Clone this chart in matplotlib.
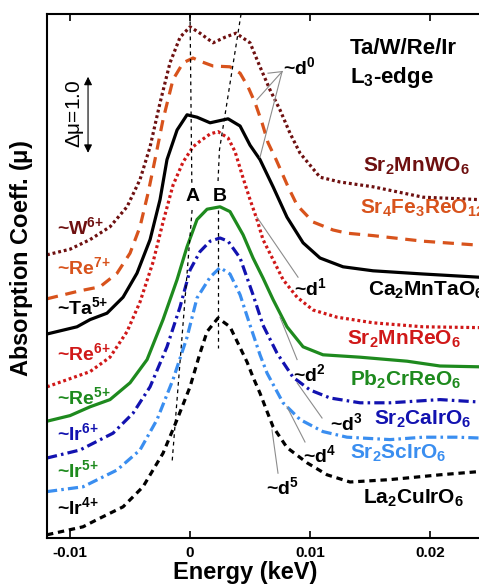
import numpy as np
import matplotlib
matplotlib.use('Agg')
import matplotlib.pyplot as plt

plt.rcParams['font.family'] = ['Liberation Sans', 'DejaVu Sans']
plt.rcParams['mathtext.default'] = 'regular'

# energy offsets in eV (converted to keV when plotted), mu in units of delta-mu
e_wo = [-11.92, -10.0, -8.33, -6.67, -5.25, -4.17, -3.33, -2.5, -1.67, -0.83, 0.0, 0.83, 1.92, 2.92, 3.83,
        5.0, 5.83, 6.67, 7.5, 8.33, 9.17, 10.17, 10.83, 12.5, 15.25, 19.42, 24.08, 25.83]
mu_wo = [3.54, 3.61, 3.73, 3.89, 4.14, 4.48, 4.89, 5.44, 5.94, 6.26, 6.39, 6.31, 6.19, 6.26, 6.31,
         6.19, 5.89, 5.60, 5.35, 5.06, 4.81, 4.63, 4.51, 4.45, 4.39, 4.26, 4.23, 4.21]

e_fe = [-11.92, -10.83, -9.17, -7.5, -6.08, -5.0, -4.17, -3.5, -2.92, -2.25, -1.42, -0.58, 0.25, 0.83,
        1.92, 3.33, 4.17, 4.83, 5.42, 6.0, 6.5, 7.17, 8.17, 8.92, 10.25, 11.92, 13.08, 15.25, 19.42,
        24.08, 25.83]
mu_fe = [2.99, 3.03, 3.09, 3.14, 3.31, 3.56, 3.89, 4.31, 4.73, 5.23, 5.73, 5.94, 6.00, 5.96,
         5.90, 5.89, 5.81, 5.64, 5.44, 5.19, 4.94, 4.73, 4.39, 4.16, 3.95, 3.85, 3.81, 3.78, 3.71,
         3.66, 3.65]

e_ta = [-11.92, -9.42, -8.33, -6.92, -5.58, -4.42, -3.33, -2.5, -1.92, -1.08, -0.25, 0.58, 1.67, 3.17,
        4.17, 5.0, 5.83, 6.92, 8.08, 9.42, 10.83, 12.75, 15.25, 19.42, 24.08, 25.83]
mu_ta = [2.55, 2.64, 2.73, 2.81, 3.01, 3.31, 3.73, 4.23, 4.73, 5.10, 5.29, 5.26, 5.19, 5.24,
         5.15, 4.91, 4.73, 4.39, 4.01, 3.69, 3.50, 3.39, 3.34, 3.30, 3.26, 3.25]

e_mnre = [-11.92, -8.33, -6.67, -5.25, -4.17, -3.08, -2.25, -1.42, -0.58, 0.25, 0.83, 1.67, 2.33, 3.17,
          3.75, 4.42, 5.0, 5.58, 6.08, 6.92, 7.75, 8.92, 10.25, 12.25, 15.25, 19.42, 24.08, 25.83]
mu_mnre = [1.89, 2.08, 2.26, 2.58, 2.95, 3.45, 3.95, 4.41, 4.70, 4.89, 4.96, 5.05, 5.08, 5.00,
           4.83, 4.50, 4.23, 3.98, 3.73, 3.48, 3.23, 3.01, 2.85, 2.76, 2.69, 2.64, 2.63, 2.63]

e_cr = [-11.92, -10.0, -8.33, -6.67, -5.0, -3.58, -2.25, -1.08, -0.25, 0.58, 1.42, 2.5, 3.33, 4.42,
        5.25, 6.08, 6.92, 8.08, 9.42, 11.08, 14.17, 18.08, 20.83, 24.08, 25.83]
mu_cr = [1.46, 1.53, 1.64, 1.73, 1.94, 2.23, 2.73, 3.23, 3.64, 3.98, 4.11, 4.14, 4.08, 3.79,
         3.50, 3.25, 2.98, 2.64, 2.39, 2.29, 2.26, 2.21, 2.15, 2.14, 2.14]

e_ca = [-11.92, -9.17, -6.42, -4.75, -3.33, -1.92, -0.83, 0.0, 0.83, 1.67, 2.5, 3.17, 4.17, 5.25,
        6.08, 7.25, 8.58, 10.0, 11.67, 14.17, 16.67, 20.83, 24.08, 25.83]
mu_ca = [1.00, 1.10, 1.31, 1.56, 1.89, 2.39, 2.89, 3.35, 3.58, 3.71, 3.75, 3.71, 3.50, 3.04,
         2.66, 2.31, 2.01, 1.85, 1.75, 1.69, 1.69, 1.73, 1.70, 1.69]

e_sc = [-11.92, -8.92, -6.08, -4.17, -2.75, -1.42, -0.25, 0.58, 1.67, 2.5, 3.33, 4.17, 5.0,
        5.83, 6.42, 7.75, 9.17, 11.08, 13.08, 16.67, 19.42, 22.25, 24.08, 25.83]
mu_sc = [0.58, 0.64, 0.85, 1.10, 1.48, 1.98, 2.51, 3.00, 3.26, 3.38, 3.30, 3.04, 2.66,
         2.29, 2.06, 1.69, 1.48, 1.33, 1.26, 1.23, 1.26, 1.26, 1.25, 1.25]

e_cu = [-11.92, -8.92, -7.75, -5.58, -3.92, -2.25, -1.08, 0.0, 0.83, 1.42, 2.33, 3.33, 4.17, 4.75,
        5.25, 5.83, 6.42, 6.92, 8.08, 9.75, 11.42, 13.33, 16.67, 20.83, 24.08, 25.83]
mu_cu = [0.04, 0.14, 0.23, 0.39, 0.64, 1.06, 1.48, 1.89, 2.31, 2.58, 2.75, 2.64, 2.38, 2.20,
         2.01, 1.81, 1.58, 1.39, 1.13, 0.94, 0.79, 0.70, 0.73, 0.79, 0.83, 0.84]

compounds = [r'Sr$_2$MnWO$_6$', r'Sr$_4$Fe$_3$ReO$_{12}$', r'Ca$_2$MnTaO$_6$', r'Sr$_2$MnReO$_6$',
             r'Pb$_2$CrReO$_6$', r'Sr$_2$CaIrO$_6$', r'Sr$_2$ScIrO$_6$', r'La$_2$CuIrO$_6$']
valences = [r'~W$^{6{+}}$', r'~Re$^{7{+}}$', r'~Ta$^{5{+}}$', r'~Re$^{6{+}}$',
            r'~Re$^{5{+}}$', r'~Ir$^{6{+}}$', r'~Ir$^{5{+}}$', r'~Ir$^{4{+}}$']
d_counts = [r'~d$^0$', r'~d$^1$', r'~d$^2$', r'~d$^3$', r'~d$^4$', r'~d$^5$']

curves = [(e_wo, mu_wo), (e_fe, mu_fe), (e_ta, mu_ta), (e_mnre, mu_mnre),
          (e_cr, mu_cr), (e_ca, mu_ca), (e_sc, mu_sc), (e_cu, mu_cu)]

colors = ['#6e1010', '#d8531c', 'black', '#d01818', '#1e8a1e', '#1212b0', '#3a8ef0', 'black']
styles = [(0, (0.9, 0.9)), (0, (3.5, 2.4)), '-', (0, (0.9, 0.9)),
          '-', (0, (3.2, 1.3, 0.8, 1.3)), (0, (3.2, 1.3, 0.8, 1.3)), (0, (2.0, 1.5))]
valence_colors = ['#6e1010', '#d8531c', 'black', '#d01818', '#1e8a1e', '#1212b0', '#1e8a1e', 'black']

fig = plt.figure(figsize=(4.79, 5.84), dpi=100)
ax = fig.add_axes([47 / 479, 46 / 584, 453 / 479, 524 / 584])

for (e, mu), c, ls in zip(curves, colors, styles):
    ax.plot(np.array(e) / 1000, mu, color=c, linestyle=ls, lw=2.3,
            solid_capstyle='round', solid_joinstyle='round')

# peak position guides A and B
ax.plot(np.array([0.0, 0.15]) / 1000, [6.55, 4.42], color='black', ls=(0, (3, 3)), lw=0.9)
ax.plot(np.array([0.17, -1.5]) / 1000, [4.10, 0.94], color='black', ls=(0, (3, 3)), lw=0.9)
ax.plot(np.array([4.25, 2.45, 2.33]) / 1000, [6.55, 4.85, 4.45], color='black', ls=(0, (3, 3)), lw=0.9)
ax.plot(np.array([2.33, 2.33]) / 1000, [4.10, 2.38], color='black', ls=(0, (3, 3)), lw=0.9)
ax.text(0.17 / 1000, 4.27, 'A', fontsize=14, fontweight='bold', ha='center', va='center')
ax.text(2.45 / 1000, 4.27, 'B', fontsize=14, fontweight='bold', ha='center', va='center')

# scale bar
ax.annotate('', xy=(-8.5 / 1000, 5.80), xytext=(-8.5 / 1000, 4.78),
            arrowprops=dict(arrowstyle='<|-|>', color='black', lw=0.8, mutation_scale=12))
ax.text(-9.6 / 1000, 5.30, r'$\Delta\mu$=1.0', rotation=90, fontsize=15, ha='center', va='center')

ax.text(13.3 / 1000, 6.12, 'Ta/W/Re/Ir', fontsize=16, fontweight='bold', va='center')
ax.text(13.3 / 1000, 5.76, r'L$_3$-edge', fontsize=16, fontweight='bold', va='center')

# valence labels on the left
val_y = [3.89, 3.38, 2.89, 2.31, 1.76, 1.31, 0.85, 0.38]
for lab, y, c in zip(valences, val_y, valence_colors):
    ax.text(-11.1 / 1000, y, lab, color=c, fontsize=14, fontweight='bold', va='center')

# compound labels on the right
comp_xy = [(14.4, 4.64), (14.2, 4.12), (14.8, 3.10), (13.1, 2.48),
           (13.3, 1.98), (15.3, 1.48), (13.3, 1.06), (14.4, 0.50)]
for lab, (x, y), c in zip(compounds, comp_xy, colors):
    ax.text(x / 1000, y, lab, color=c, fontsize=15, fontweight='bold', va='center')

# d-electron count annotations
gray = '#8c8c8c'
for xe, ye in [(6.5, 5.81), (5.58, 5.48), (5.83, 4.76)]:
    ax.plot(np.array([7.67, xe]) / 1000, [5.83, ye], color=gray, lw=0.8)
ax.text(7.75 / 1000, 5.88, d_counts[0], fontsize=14, fontweight='bold', va='center')
leaders = [((5.58, 4.01), (9.0, 3.26)), ((7.5, 2.76), (8.92, 2.23)), ((8.92, 1.94), (11.0, 1.5)),
           ((8.08, 1.64), (9.58, 1.2)), ((6.83, 1.35), (7.33, 0.81))]
text_pos = [(8.7, 3.12), (8.6, 2.05), (11.7, 1.44), (9.4, 1.04), (6.3, 0.64)]
for lab, ((x0, y0), (x1, y1)), (tx, ty) in zip(d_counts[1:], leaders, text_pos):
    ax.plot(np.array([x0, x1]) / 1000, [y0, y1], color=gray, lw=0.8)
    ax.text(tx / 1000, ty, lab, fontsize=14, fontweight='bold', va='center')

ax.set_xlim(-11.92 / 1000, 25.83 / 1000)
ax.set_ylim(0, 6.55)
ax.set_xticks([-0.01, 0, 0.01, 0.02])
ax.set_xticklabels(['-0.01', '0', '0.01', '0.02'], fontsize=11, fontweight='bold')
ax.set_yticks([])
ax.tick_params(axis='x', direction='in', top=True, length=5, width=1.2, pad=6)
for s in ax.spines.values():
    s.set_linewidth(1.5)

fig.text(245 / 479, 1 - 572 / 584, 'Energy (keV)', fontsize=17, fontweight='bold', ha='center', va='center')
fig.text(22 / 479, 1 - 258 / 584, r'Absorption Coeff. ($\mu$)', fontsize=17, fontweight='bold',
         rotation=90, ha='center', va='center')

fig.savefig('out.png', dpi=100)
